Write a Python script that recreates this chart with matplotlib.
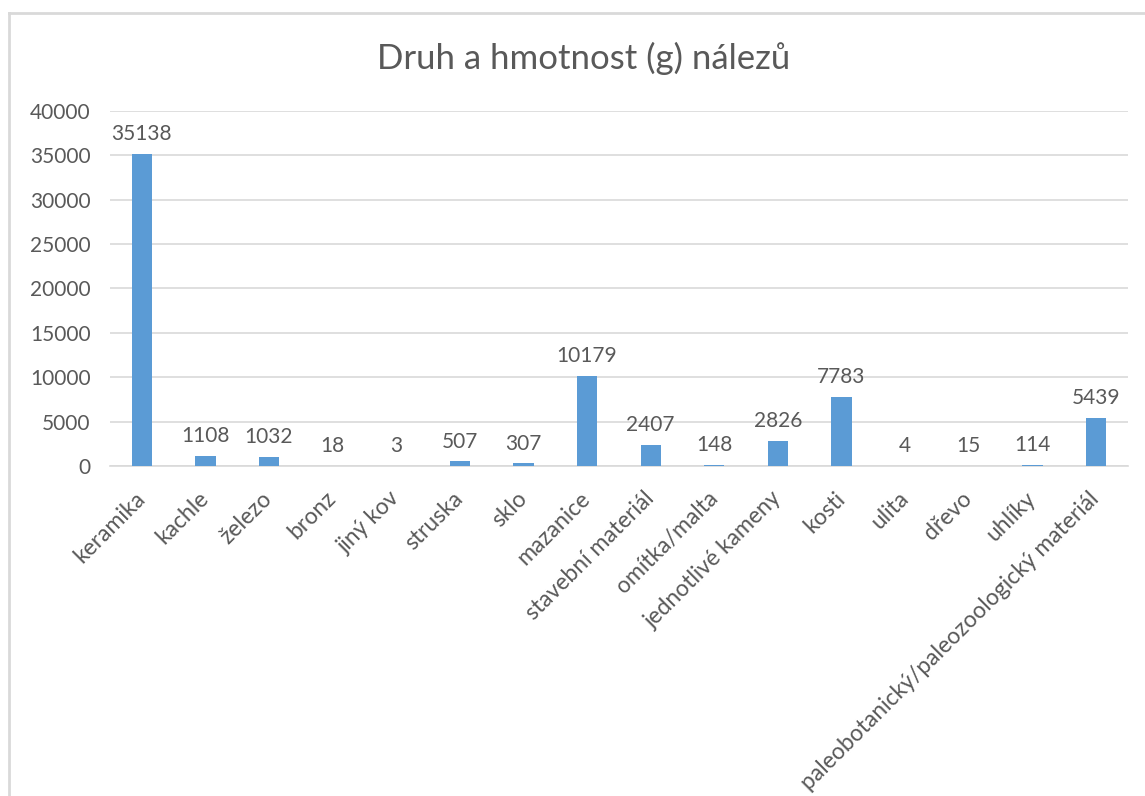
import numpy as np
import matplotlib
matplotlib.use("Agg")
import matplotlib.pyplot as plt
from matplotlib.lines import Line2D

categories = ["keramika", "kachle", "železo", "bronz", "jiný kov", "struska", "sklo",
              "mazanice", "stavební materiál", "omítka/malta", "jednotlivé kameny",
              "kosti", "ulita", "dřevo", "uhlíky",
              "paleobotanický/paleozoologický materiál"]
weights = [35138, 1108, 1032, 18, 3, 507, 307, 10179, 2407, 148, 2826, 7783, 4, 15, 114, 5439]
yticks = [0, 5000, 10000, 15000, 20000, 25000, 30000, 35000, 40000]

plt.rcParams['font.family'] = ['Lato', 'DejaVu Sans']
text_color = '#595959'
bar_color = '#5b9bd5'
grid_color = '#d9d9d9'

fig = plt.figure(figsize=(11.45, 7.96), dpi=100)
ax = fig.add_axes([0.096, 0.4146, 0.889, 0.446])

x = np.arange(len(categories))
bars = ax.bar(x, weights, width=0.32, color=bar_color, zorder=3)
for xi, w in zip(x, weights):
    ax.annotate(str(w), (xi, w), xytext=(0, 7), textcoords='offset points',
                ha='center', va='bottom', fontsize=15, color=text_color)

ax.set_xlim(-0.5, len(categories) - 0.5)
ax.set_ylim(0, 40000)
ax.set_yticks(yticks)
ax.set_yticklabels([str(t) for t in yticks], fontsize=15, color=text_color)
ax.set_xticks(x)
ax.set_xticklabels(categories, rotation=45, ha='right', va='center', rotation_mode='anchor',
                   fontsize=16.5, color=text_color)
ax.tick_params(axis='both', length=0)
ax.tick_params(axis='y', pad=14)
ax.tick_params(axis='x', pad=21)
ax.yaxis.grid(True, color=grid_color, linewidth=1.2, zorder=0)
for side in ['top', 'right', 'left']:
    ax.spines[side].set_visible(False)
ax.spines['bottom'].set_color(grid_color)
ax.spines['bottom'].set_linewidth(1.2)

fig.text(0.51, 0.927, "Druh a hmotnost (g) nálezů", ha='center', va='center',
         fontsize=25, color=text_color)

# chart frame (top and left edges only visible)
fig.add_artist(Line2D([9 / 1145, 1.0], [1 - 13 / 796, 1 - 13 / 796], transform=fig.transFigure,
                      color='#d9d9d9', linewidth=2))
fig.add_artist(Line2D([9 / 1145, 9 / 1145], [0.0, 1 - 13 / 796], transform=fig.transFigure,
                      color='#d9d9d9', linewidth=2))

fig.savefig("out.png", dpi=100, facecolor='white')
